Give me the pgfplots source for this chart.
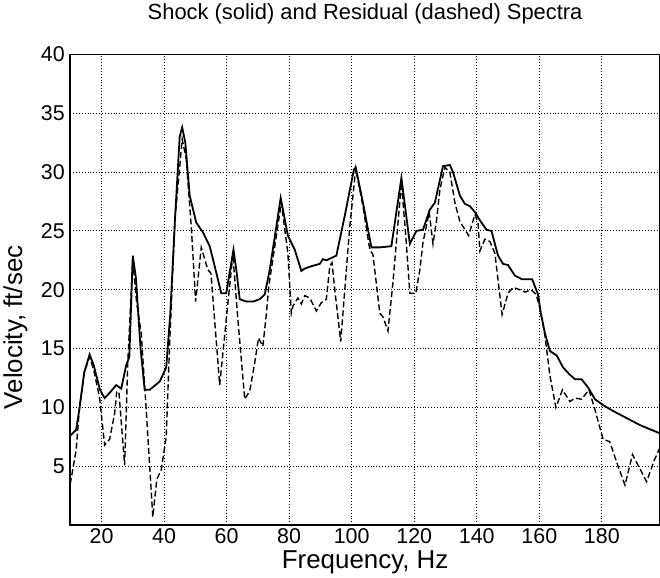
\documentclass[border=0pt]{standalone}
\usepackage{pgfplots}
\pgfplotsset{compat=1.18}
\usepackage{fontspec}
\setmainfont{Liberation Sans}
\begin{document}
\begin{tikzpicture}[trim axis right]
\begin{axis}[
  scale only axis,
  width=590bp, height=471bp,
  xmin=10, xmax=198.6, ymin=0, ymax=40,
  xtick={20,40,...,180}, ytick={5,10,...,40},
  grid=major,
  major grid style={black, line width=0.9pt, dotted},
  tick style={draw=none},
  axis line style={line width=1.6pt},
  ticklabel style={font=\fontsize{21.5}{24}\selectfont},
  yticklabel style={xshift=-2bp},
  /pgf/number format/assume math mode=true,
  title={Shock (solid) and Residual (dashed) Spectra},
  title style={font=\fontsize{22}{26}\selectfont, at={(axis description cs:0.5,1.074)}, anchor=center},
  xlabel={Frequency, Hz},
  ylabel={Velocity, ft/sec},
  label style={font=\fontsize{26}{30}\selectfont},
  xlabel style={at={(axis description cs:0.5,-0.0786)}, anchor=center},
  ylabel style={at={(axis description cs:-0.093,0.42)}, anchor=center},
]
\addplot[black, line width=1.8pt] coordinates {
(10,7.6) (11.9,8.1) (13,10) (14.5,13) (16.2,14.5) (17.5,13.6) (19.5,11.5) (21.0,10.8) (22.8,11.3) (24.7,11.9) (26.3,11.6) (27.9,13.6) (28.9,14.3) (30.0,22.9) (31,21) (32.5,15) (33.8,11.5) (35.4,11.5) (38.6,12.2) (40.7,13.4) (42,18) (43.5,26) (45.0,33) (45.8,33.8) (46.8,32.5) (48.2,28.0) (50.3,25.7) (52.4,24.9) (54.6,23.7) (56.2,22.0) (58.3,19.7) (59.9,19.7) (61,21.5) (62.2,23.4) (63.2,21.5) (64.2,19.2) (66.3,19.0) (68.5,19.0) (70.6,19.2) (72.2,19.6) (73.8,21.7) (77.3,27.8) (79.6,24.6) (81.8,23.4) (83.9,21.6) (85,21.8) (87.1,22.0) (89.8,22.2) (90.8,22.6) (91.9,22.5) (93.5,22.7) (95.1,22.9) (97.8,26.3) (100.7,30.2) (101.3,30.4) (103.6,27.4) (106.3,23.6) (109,23.6) (112.7,23.7) (115.9,29.5) (118.6,23.9) (120.7,25.0) (122.8,25.1) (125,26.8) (126.6,27.4) (129.2,30.5) (131.4,30.6) (132.4,30.0) (134.6,28.0) (136.2,27.3) (137.8,27.1) (139.4,26.6) (141,25.9) (143.1,25.1) (144.7,25.0) (146.8,22.9) (148.4,22.2) (150,22.1) (152.2,21.2) (154.4,20.9) (157.7,20.9) (159.6,19.6) (160.5,18.0) (161.8,16.3) (163.4,14.8) (165.6,14.4) (167.6,13.4) (169.7,12.8) (171.4,12.4) (173.5,12.4) (175.6,11.7) (177.8,10.7) (180.4,10.2) (183.6,9.7) (187.9,9.1) (192.2,8.5) (198.6,7.8)
};
\addplot[black, line width=1.4pt, dash pattern=on 6pt off 3pt] coordinates {
(10,3.5) (10.6,4.4) (11.9,6.4) (13,10.1) (14.5,13) (16.2,14.3) (17.5,13.2) (19.4,10.8) (21,6.8) (22.6,7.3) (24.2,9.5) (24.9,11.4) (25.6,11.2) (27.4,5.1) (28.4,13.8) (30,22.5) (31.2,19) (32.7,16.3) (34.3,9.8) (36.4,0.7) (37.7,3.9) (39.1,4.7) (40.7,7.5) (41.8,15.5) (43.5,26) (45.8,32.8) (47.1,31.1) (48.7,25.4) (50.1,19.0) (51.9,23.6) (54.0,21.7) (55,21.4) (57.8,11.9) (59.9,17.5) (62,23) (63.6,17.5) (65.8,10.7) (67.4,11.4) (69,13.8) (70.2,15.9) (71.6,15.2) (72.7,17.9) (73.5,20.3) (77.5,27.4) (79.6,23.1) (80.7,18.0) (81.2,18.6) (82.8,19.3) (83.9,18.8) (85,19.5) (86.6,19.3) (88.7,18.2) (90.3,18.9) (91.9,19.2) (93,22.0) (93.7,22.3) (94.6,20.0) (96.5,15.6) (97.8,20.0) (99.4,25.4) (101.3,30.3) (103.6,27.1) (105.8,23.4) (106.8,23.0) (109,18.0) (110,17.7) (111.6,16.5) (113.2,20.6) (115.9,29.1) (117.3,24.6) (118.6,19.7) (120.5,19.7) (121.8,21.7) (122.8,24.0) (124.8,26.6) (126,23.9) (127.1,25.8) (128.2,28.5) (129.8,30.4) (131.4,30.0) (133,27.4) (134.6,25.8) (137.4,24.6) (139.4,26.4) (140.4,25.7) (141,23.3) (142.6,24.3) (144.2,24.1) (145.8,23.1) (148.1,17.9) (150,19.7) (151.6,20.2) (153.8,20.0) (155.4,19.8) (157.4,20.0) (159,19.6) (160.2,18.4) (161.8,16.1) (163.4,12.7) (165.3,10.0) (167.4,11.5) (169.8,10.5) (171.4,10.8) (173.5,10.7) (175.9,11.5) (177.8,9.8) (180.4,7.3) (182.5,7.1) (185.2,5.0) (187.4,3.4) (189.8,6.0) (194.3,3.7) (196.9,5.6) (198.6,6.6)
};
\end{axis}
\end{tikzpicture}
\end{document}
